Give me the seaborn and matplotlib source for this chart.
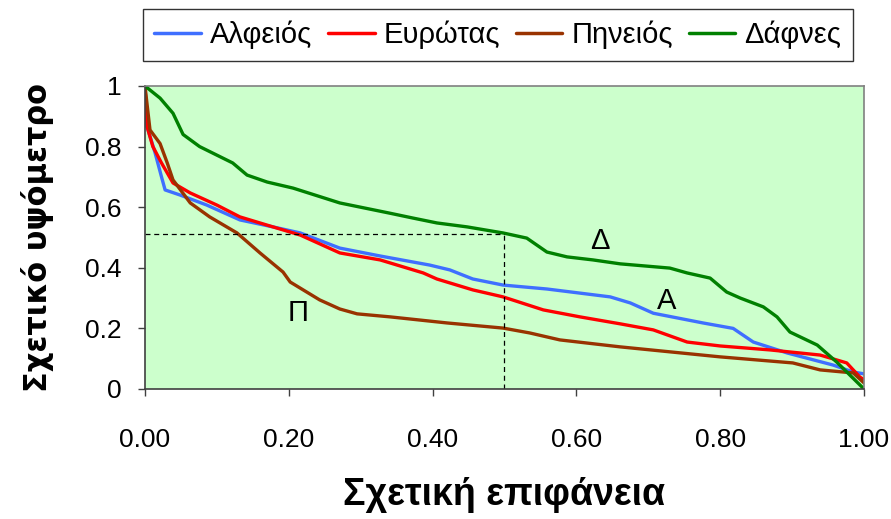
import matplotlib
matplotlib.use('Agg')
import matplotlib.pyplot as plt
import seaborn as sns
import pandas as pd
import numpy as np

#---- Data: hypsometric curves ----#
names = ['Αλφειός', 'Ευρώτας', 'Πηνειός', 'Δάφνες']
colors = ['#3F6FFF', '#FF0000', '#993300', '#008000']

alf_x = [0, 0.003, 0.014, 0.023, 0.028, 0.049, 0.086, 0.132, 0.178, 0.216, 0.271, 0.327, 0.396,
         0.424, 0.456, 0.498, 0.559, 0.647, 0.675, 0.707, 0.776, 0.818, 0.846, 0.893, 0.957, 0.985, 1.0]
alf_y = [1, 0.865, 0.78, 0.70, 0.657, 0.64, 0.607, 0.558, 0.535, 0.515, 0.465, 0.439, 0.409,
         0.393, 0.363, 0.343, 0.330, 0.304, 0.284, 0.25, 0.218, 0.20, 0.155, 0.119, 0.079, 0.056, 0.05]

evr_x = [0, 0.003, 0.011, 0.023, 0.039, 0.063, 0.10, 0.132, 0.178, 0.216, 0.271, 0.327, 0.387,
         0.406, 0.456, 0.498, 0.554, 0.605, 0.661, 0.707, 0.754, 0.80, 0.869, 0.939, 0.976, 0.994, 1.0]
evr_y = [1, 0.865, 0.80, 0.746, 0.68, 0.647, 0.607, 0.568, 0.535, 0.508, 0.449, 0.426, 0.383,
         0.363, 0.327, 0.304, 0.261, 0.238, 0.215, 0.195, 0.155, 0.142, 0.129, 0.112, 0.086, 0.04, 0.03]

pin_x = [0, 0.007, 0.021, 0.031, 0.039, 0.063, 0.09, 0.128, 0.16, 0.192, 0.202, 0.243, 0.271,
         0.295, 0.341, 0.42, 0.498, 0.535, 0.577, 0.661, 0.80, 0.901, 0.939, 0.985, 1.0]
pin_y = [1, 0.855, 0.81, 0.746, 0.69, 0.614, 0.568, 0.515, 0.449, 0.386, 0.353, 0.294, 0.264,
         0.248, 0.238, 0.218, 0.201, 0.185, 0.162, 0.139, 0.106, 0.086, 0.063, 0.053, 0.02]

daf_x = [0, 0.021, 0.039, 0.053, 0.076, 0.122, 0.142, 0.17, 0.206, 0.271, 0.341, 0.373, 0.406,
         0.448, 0.498, 0.531, 0.559, 0.587, 0.623, 0.661, 0.730, 0.754, 0.786, 0.809, 0.828, 0.86,
         0.879, 0.897, 0.935, 0.962, 1.0]
daf_y = [1, 0.96, 0.91, 0.84, 0.80, 0.746, 0.706, 0.683, 0.663, 0.614, 0.58, 0.564, 0.548,
         0.535, 0.515, 0.498, 0.452, 0.436, 0.426, 0.413, 0.399, 0.383, 0.366, 0.320, 0.30, 0.271,
         0.238, 0.188, 0.145, 0.089, 0.0]

# reference lines at half area
ref_x = 0.5
ref_y = 0.512

# curve labels
lab_text = ['Δ', 'Α', 'Π']
lab_x = [0.633, 0.726, 0.213]
lab_y = [0.49, 0.29, 0.25]

xt = [0, 0.2, 0.4, 0.6, 0.8, 1.0]
xtl = ['0.00', '0.20', '0.40', '0.60', '0.80', '1.00']
yt = [0, 0.2, 0.4, 0.6, 0.8, 1.0]
ytl = ['0', '0.2', '0.4', '0.6', '0.8', '1']

df = pd.concat([
    pd.DataFrame({'x': alf_x, 'y': alf_y, 'river': names[0]}),
    pd.DataFrame({'x': evr_x, 'y': evr_y, 'river': names[1]}),
    pd.DataFrame({'x': pin_x, 'y': pin_y, 'river': names[2]}),
    pd.DataFrame({'x': daf_x, 'y': daf_y, 'river': names[3]}),
], ignore_index=True)

#---- Plot ----#
sns.set_style('white')
plt.rcParams['font.family'] = ['Liberation Sans', 'DejaVu Sans']
plt.rcParams['text.color'] = 'black'
plt.rcParams['xtick.color'] = 'black'
plt.rcParams['ytick.color'] = 'black'
plt.rcParams['axes.labelcolor'] = 'black'
fig = plt.figure(figsize=(8.91, 5.19), dpi=100)
ax = fig.add_axes([0.1627, 0.2505, 0.807, 0.5838])
ax.set_facecolor('#CCFFCC')

pal = dict(zip(names, colors))
sns.lineplot(data=df, x='x', y='y', hue='river', palette=pal, sort=False, estimator=None,
             linewidth=2.4, ax=ax, legend=False)

ax.plot([0, ref_x], [ref_y, ref_y], color='black', linestyle=(0, (4, 3)), linewidth=0.9)
ax.plot([ref_x, ref_x], [0, ref_y], color='black', linestyle=(0, (4, 3)), linewidth=0.9)

for t, x, y in zip(lab_text, lab_x, lab_y):
    ax.text(x, y, t, fontsize=21, ha='center', va='center', color='black')

ax.set_xlim(0, 1)
ax.set_ylim(0, 1)
ax.set_xticks(xt)
ax.set_xticklabels(xtl)
ax.set_yticks(yt)
ax.set_yticklabels(ytl)
ax.tick_params(axis='both', labelsize=19, length=5, width=1, color='#404040', direction='out',
               bottom=True, left=True)
ax.tick_params(axis='x', pad=23)
ax.tick_params(axis='y', pad=12)
for s in ax.spines.values():
    s.set_color('#808080')
    s.set_linewidth(1.2)
ax.spines['bottom'].set_color('#404040')
ax.spines['left'].set_color('#404040')

ax.set_xlabel('Σχετική επιφάνεια', fontsize=27, fontweight='bold', labelpad=18)
ax.set_ylabel('Σχετικό υψόμετρο', fontsize=22, fontweight='bold', labelpad=22,
              family=['DejaVu Sans'])

#---- Legend ----#
handles = [plt.Line2D([], [], color=c, linewidth=2.5) for c in colors]
leg = fig.legend(handles, names, ncol=4, loc='center', mode='expand',
                 bbox_to_anchor=(0.16, 0.888, 0.797, 0.089), frameon=True, fancybox=False,
                 prop={'family': ['Liberation Sans Narrow', 'Liberation Sans'], 'size': 21},
                 handlelength=1.6, handletextpad=0.3, columnspacing=1.0, borderaxespad=0)
leg.get_frame().set_edgecolor('black')
leg.get_frame().set_linewidth(1.0)

fig.savefig('out.png', dpi=100)
